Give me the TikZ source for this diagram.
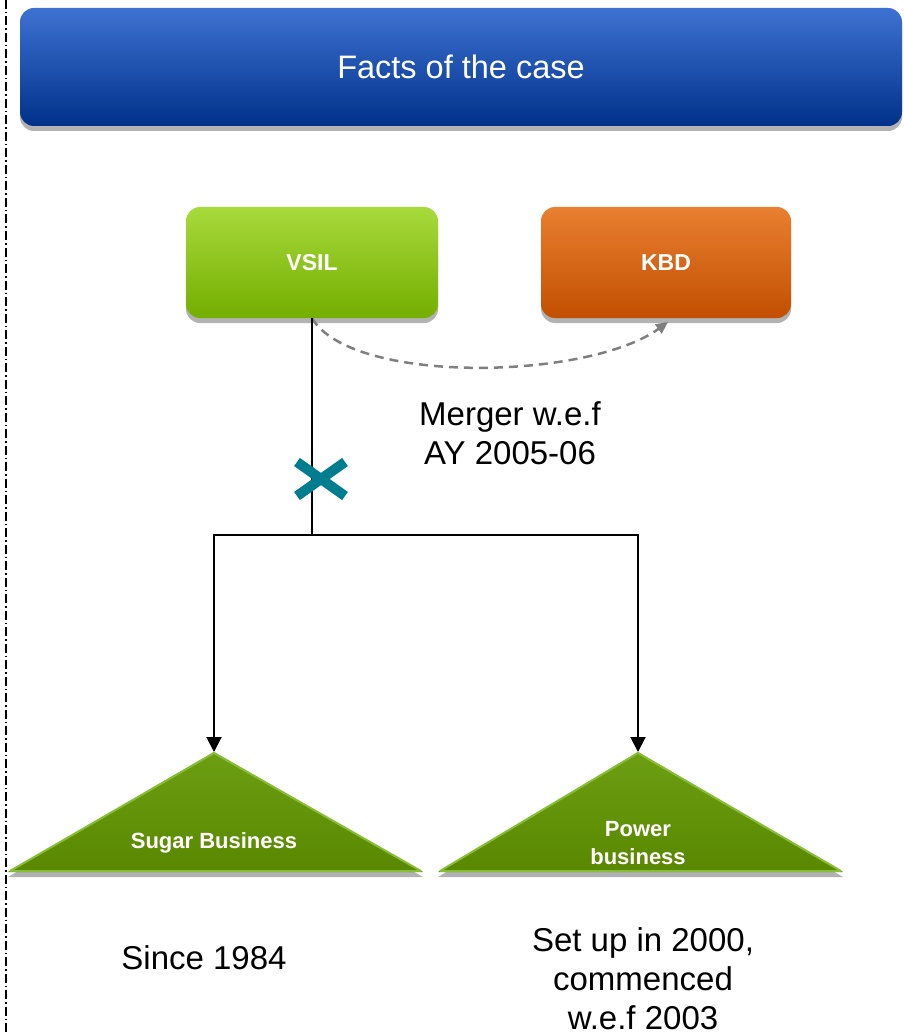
\documentclass[tikz,border=0pt]{standalone}
\usepackage{fontspec}
\setmainfont{Liberation Sans}
\usetikzlibrary{shadows,arrows.meta,shapes.misc}
\definecolor{hdrtop}{HTML}{3E72D2}
\definecolor{hdrmid}{HTML}{0B3C9A}
\definecolor{hdrbot}{HTML}{00318A}
\definecolor{vsiltop}{HTML}{A8DA3C}
\definecolor{vsilmid}{HTML}{7DB90A}
\definecolor{vsilbot}{HTML}{74AE00}
\definecolor{kbdtop}{HTML}{E97F30}
\definecolor{kbdmid}{HTML}{C95A10}
\definecolor{kbdbot}{HTML}{C24F02}
\definecolor{tritop}{HTML}{6C9E12}
\definecolor{tribot}{HTML}{598800}
\definecolor{triedge}{HTML}{88BE36}
\definecolor{cutteal}{HTML}{007D8E}
\definecolor{mergegray}{HTML}{7F7F7F}
\begin{document}
\begin{tikzpicture}[x=1pt,y=-1pt,
  softshadow/.style={drop shadow={shadow xshift=0pt,shadow yshift=-5pt,opacity=0.3,fill=black}},
  header/.style={rounded corners=14pt,minimum width=882pt,minimum height=118pt,
    top color=hdrtop,middle color=hdrmid,bottom color=hdrbot,softshadow,
    text=white,font=\fontsize{32.5}{38}\selectfont},
  entity/.style={rounded corners=14pt,minimum height=111pt,softshadow,
    text=white,font=\bfseries\fontsize{23}{27}\selectfont},
  tri/.style={top color=tritop,bottom color=tribot,softshadow},
  trilabel/.style={text=white,align=center,font=\bfseries\fontsize{22}{28}\selectfont},
  note/.style={align=center,font=\fontsize{33}{39}\selectfont},
  link/.style={line width=2pt,draw=black},
  tip/.style={-{Triangle[length=15pt,width=15pt]}},
  merge/.style={line width=2.5pt,draw=mergegray,dash pattern=on 9pt off 6pt,
    -{Triangle[length=12pt,width=11pt,fill=mergegray]}},
  cut/.style={cross out,draw=cutteal,line width=10pt,minimum width=38pt,minimum height=24pt,inner sep=0pt}
]
\useasboundingbox (0,0) rectangle (903,1032);

% margin rule on the left
\draw[line width=1.4pt,dash pattern=on 9pt off 3pt on 1.5pt off 3pt] (6,0) -- (6,1032);

% title bar
\node[header] (title) at (461,67) {Facts of the case};

% companies
\node[entity,minimum width=252pt,top color=vsiltop,middle color=vsilmid,bottom color=vsilbot]
  (vsil) at (312,262.5) {VSIL};
\node[entity,minimum width=250pt,top color=kbdtop,middle color=kbdmid,bottom color=kbdbot]
  (kbd) at (666,262.5) {KBD};

% businesses
\path[tri] (214,752) coordinate (sugartop) -- (423,872) -- (8,872) -- cycle;
\draw[triedge,line width=2pt] (10,871) -- (214,753) -- (421,871);
\draw[triedge,line width=1.5pt] (10,871) -- (421,871);
\path[tri] (638,752) coordinate (powertop) -- (843,872) -- (438,872) -- cycle;
\draw[triedge,line width=2pt] (440,871) -- (638,753) -- (841,871);
\draw[triedge,line width=1.5pt] (440,871) -- (841,871);
\node[trilabel] (sugar) at (214,843) {Sugar Business};
\node[trilabel] (power) at (638,843) {Power\\business};

% merger arrow
\coordinate (kbdin) at (668,322);
\draw[merge] (vsil.south) .. controls +(40,67) and +(-80,58) .. (kbdin);
\node[note] (merger) at (510,433) {Merger w.e.f\\AY 2005-06};

% hive-off tree
\coordinate (junc) at (312,535);
\draw[link] (vsil.south) -- (junc);
\draw[link,tip] (junc) -| (sugartop);
\draw[link,tip] (junc) -| (powertop);
\node[cut] (cutmark) at (321,479) {};

% notes under the businesses
\node[note] (since) at (204,958) {Since 1984};
\node[note,font=\fontsize{33}{39}\selectfont] (setup) at (643,979) {Set up in 2000,\\commenced\\w.e.f 2003};
\end{tikzpicture}
\end{document}
